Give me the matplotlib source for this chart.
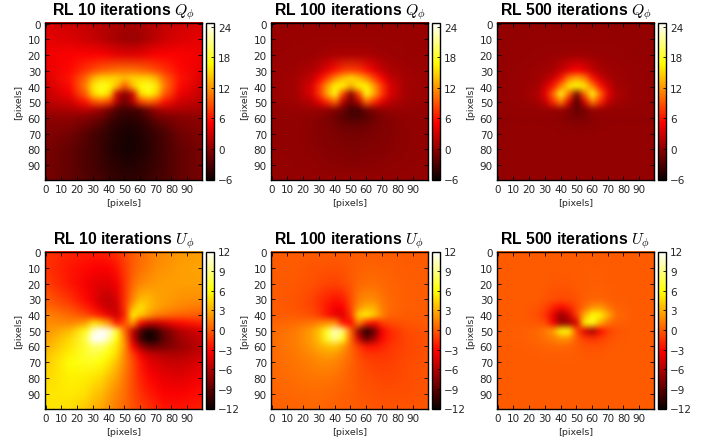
import numpy as np
import matplotlib
matplotlib.use("Agg")
import matplotlib.pyplot as plt
from matplotlib.image import NonUniformImage

W, H = 712, 439
plt.rcParams['mathtext.fontset'] = 'cm'
plt.rcParams['font.family'] = 'DejaVu Sans'

X_NODES = [0, 15, 25, 30, 35, 40, 45, 50, 55, 60, 65, 70, 75, 85, 99]
Y_NODES = [0, 10, 20, 30, 35, 40, 45, 50, 55, 60, 65, 70, 80, 90, 99]
TICKS = list(range(0, 100, 10))

Q10 = [
 [3.5,3,2.5,2.2,2,1.7,1.4,1.2,1.2,1.4,1.7,2,2.5,3,3.5],
 [4,3.5,3,2.5,2,1.5,1,.6,.5,.8,1.5,2,2.8,3.5,4],
 [4.5,5,5,5,5,4.5,4,3.8,3.8,4,4.5,5,5,5,4.5],
 [4,5.5,7.5,8.5,9.5,10,10.5,10.5,10.5,10,9.5,8.5,7.5,5.5,4],
 [3.5,6,10,13.5,15,15,15,14,15,15,15,13.5,10,6,3.5],
 [3,5.5,11,16,18,17,14,9,14,17,18,16,11,5.5,3],
 [2.5,4.5,9.5,15,17,15,3,-.5,3,15,17,15,9.5,4.5,2.5],
 [2,3,6,8.5,9.5,8,1.5,-1.5,1.5,8,9.5,8.5,6,3,2],
 [1,1.5,2,1.5,.5,-1,-3,-3.5,-3.5,-3,-1,.5,1.5,1.5,1],
 [0,0,-.5,-1,-1.5,-3,-4,-4.5,-4.5,-4,-3,-1.5,-1,-.5,0],
 [-.3,-.5,-1.5,-2.3,-3,-4,-4.7,-5,-5,-4.7,-4,-3,-2.3,-.7,-.3],
 [-.5,-1.3,-2.5,-3.2,-3.8,-4.5,-5,-5.4,-5.4,-5,-4.5,-3.8,-3.2,-1.5,-.5],
 [-1,-2,-3,-3.5,-4,-4.8,-5.2,-5.5,-5.5,-5.2,-4.8,-4,-3.3,-2,-1],
 [-1,-2,-3,-3.4,-3.8,-4.3,-4.7,-5,-5,-4.7,-4.3,-3.8,-3.3,-2,-1],
 [-1.2,-2,-2.8,-3.2,-3.5,-4,-4.3,-4.5,-4.5,-4.3,-4,-3.5,-3.2,-2,-1.2],
]
Q100 = [
 [.5,.5,.5,.5,.5,.5,.5,.5,.5,.5,.5,.5,.5,.5,.5],
 [.5,.5,.5,.5,.5,.5,.5,.5,.5,.5,.5,.5,.5,.5,.5],
 [.5,.5,.7,.8,1,1.2,1.3,1.3,1.3,1.2,1,.8,.7,.5,.5],
 [.5,.8,1.5,2.5,4,6,7.5,8,7.5,6,4,2.5,1.5,.8,.5],
 [.5,1,2.5,5,8,11.5,14,15.5,14,11.5,8,5,2.5,1,.5],
 [.5,1,3.5,7.5,12.5,16.5,16.5,13,16.5,16.5,12.5,7.5,3.5,1,.5],
 [.5,1,3.5,7.5,13,17.5,8,-.5,8,17.5,13,7.5,3.5,1,.5],
 [.5,.8,2,4,7,10,2,-1.5,2,10,7,4,2,.8,.5],
 [.3,.4,.5,.5,.2,-.5,-1.5,-3.5,-3.5,-1.5,-.5,.2,.5,.4,.3],
 [.2,.2,0,-.3,-.8,-1.5,-2.5,-3,-3,-2.5,-1.5,-.8,-.3,.2,.2],
 [.2,.1,-.2,-.4,-.7,-1.1,-1.5,-1.8,-1.8,-1.5,-1.1,-.7,-.4,0,.2],
 [.2,.1,-.2,-.4,-.6,-.8,-1,-1.2,-1.2,-1,-.8,-.6,-.4,0,.2],
 [.2,.1,-.1,-.2,-.4,-.5,-.6,-.7,-.7,-.6,-.5,-.4,-.2,0,.2],
 [.3,.2,.1,0,-.1,-.2,-.2,-.3,-.3,-.2,-.2,-.1,0,.1,.3],
 [.3,.3,.3,.3,.3,.3,.3,.3,.3,.3,.3,.3,.3,.3,.3],
]
Q500 = [
 [.3,.3,.3,.3,.3,.3,.3,.3,.3,.3,.3,.3,.3,.3,.3],
 [.3,.3,.3,.3,.3,.3,.3,.3,.3,.3,.3,.3,.3,.3,.3],
 [.3,.3,.4,.4,.5,.5,.6,.6,.6,.5,.5,.4,.4,.3,.3],
 [.3,.4,.6,.8,1.2,2.5,4,5,4,2.5,1.2,.8,.6,.4,.3],
 [.3,.4,.8,1.5,3,6,11,13,11,6,3,1.5,.8,.4,.3],
 [.3,.5,1,3,6,11,16,17,16,11,6,3,1,.5,.3],
 [.3,.5,1.5,4,10,17.5,10,-1,10,17.5,10,4,1.5,.5,.3],
 [.3,.4,1,2.5,7,11,3.5,-3,3.5,11,7,2.5,1,.4,.3],
 [.2,.3,.3,.4,.5,.5,-.5,-2,-1,.5,.5,.4,.3,.3,.2],
 [.2,.2,.2,.1,0,-.2,-.6,-1,-.8,-.2,0,.1,.2,.2,.2],
 [.2,.2,.2,.2,.1,0,-.1,-.2,-.2,-.1,0,.1,.2,.2,.2],
 [.3,.3,.3,.3,.3,.2,.2,.2,.2,.2,.3,.3,.3,.3,.3],
 [.3,.3,.3,.3,.3,.3,.3,.3,.3,.3,.3,.3,.3,.3,.3],
 [.3,.3,.3,.3,.3,.3,.3,.3,.3,.3,.3,.3,.3,.3,.3],
 [.3,.3,.3,.3,.3,.3,.3,.3,.3,.3,.3,.3,.3,.3,.3],
]
U10 = [
 [-1.5,-2,-2.3,-2.3,-2.2,-2,-1.5,-.8,0,.5,1,1.5,1.8,2.2,2.5],
 [-1.5,-2.5,-3,-3.2,-3.3,-3.2,-2.5,-1.2,0,.8,1.3,1.8,2,2.5,2.7],
 [-1,-2.5,-3.5,-4,-4.3,-4.3,-3.5,-1.5,.5,1.5,2,2.3,2.5,2.5,2.5],
 [0,-1.5,-3,-4,-5,-5.5,-4.5,-1.5,1.5,3.5,3.5,2.7,2.5,2,1.8],
 [.5,-.5,-2,-3,-4.5,-5.2,-5,-1.5,3,5,3.5,2.8,2.2,1.5,1],
 [1.5,.5,-.5,-1.5,-2.5,-4,-4.8,-2,5.5,4,2.5,1.2,.8,.2,0],
 [1.8,1.5,2.5,5,4,2,-2.5,-.5,2.5,-3,-5,-5,-4.5,-3,-2],
 [2,3.5,6.5,10.5,12,11,7,.5,-5,-9.5,-11.5,-10.5,-8.5,-6,-4.5],
 [2.5,4.5,7.5,12,12,10,6,1.5,-5,-10,-12,-11,-9,-6.5,-5],
 [3,5,7,8.5,8.5,7,5,2,-3,-6.5,-8.5,-8.5,-8,-7,-5.5],
 [3.7,5.5,7,7.5,7,6,4.5,1.5,-1,-3.5,-5,-5.5,-6,-6,-5],
 [4,6,6.5,6.5,6,5,3.5,1.5,-.5,-2.5,-4,-4.5,-5,-5.2,-4.5],
 [4.5,5.5,5.3,5,4.5,3.5,2.5,1,-.5,-2,-3,-3.5,-4,-4.3,-3.5],
 [5,5.2,4.8,4,3.5,2.5,1.5,.7,-.5,-1.5,-2.2,-2.8,-3.2,-3.3,-2.8],
 [5,4.8,4,3.3,2.8,2,1.2,.5,-.3,-1,-1.5,-2,-2.5,-2.6,-2.2],
]
U100 = [
 [0,0,0,0,0,0,0,0,0,0,0,0,0,0,0],
 [0,0,-.2,-.2,-.3,-.3,-.2,0,.2,.3,.3,.2,.2,0,0],
 [0,-.1,-.3,-.6,-.8,-.9,-.6,-.1,.4,.6,.7,.5,.3,.1,0],
 [0,-.2,-.8,-1.5,-2,-2.6,-2.2,-.5,1.2,1.8,1.6,1,.5,.1,0],
 [0,-.2,-.8,-1.5,-2.5,-3.5,-3.2,-.8,2,3,3,1.2,.5,.1,0],
 [0,0,-.4,-1.2,-2.5,-4,-4.3,-1.5,4.5,5.5,4,1.5,.3,0,0],
 [.3,.6,1,1.5,2,2,-2.5,-3,1.5,-2,-3,-1.2,-.6,-.2,0],
 [.5,1.2,2.5,4,7,10.5,8.5,.5,-7,-11,-8.5,-3.5,-1.8,-.6,-.2],
 [.6,1.3,2.5,3.8,7,9.5,6.5,.5,-5,-9,-6.5,-3,-1.8,-.8,-.3],
 [.6,1.3,2.2,3,3.5,3.8,2.5,.5,-1.2,-2.5,-2.5,-2,-1.4,-.8,-.3],
 [.5,1.1,1.7,2.2,2.5,2.3,1.5,.5,-.6,-1.3,-1.5,-1.4,-1.2,-.7,-.3],
 [.5,1,1.4,1.7,1.7,1.5,1,.3,-.3,-.8,-1,-1.1,-1,-.6,-.2],
 [.4,.7,1,1,1,.8,.5,.1,-.2,-.4,-.6,-.7,-.7,-.5,-.2],
 [.3,.5,.6,.6,.5,.4,.2,.1,-.1,-.2,-.3,-.4,-.4,-.4,-.2],
 [.2,.3,.4,.3,.3,.2,.1,0,0,-.1,-.2,-.2,-.2,-.2,-.1],
]
U500 = [
 [0,0,0,0,0,0,0,0,0,0,0,0,0,0,0],
 [0,0,0,0,0,0,0,0,0,0,0,0,0,0,0],
 [0,0,0,0,-.1,-.1,-.1,0,0,.1,.1,0,0,0,0],
 [0,0,0,-.2,-.4,-.6,-.5,-.3,.1,.3,.3,.2,0,0,0],
 [0,0,-.2,-.8,-2,-3,-2,-.6,.6,2,2.2,1,.3,0,0],
 [0,0,-.4,-1.5,-4,-7,-5,-1,3,6,5.5,3,.6,0,0],
 [0,0,-.1,-.5,-3.5,-7,-6.5,-4.5,5.5,6.5,3,.8,.2,0,0],
 [0,.1,.5,1.2,2.5,6,6,-.5,-4.5,-6.5,-3,-1,-.3,0,0],
 [0,.1,.4,.8,1.3,2,1.8,0,-1,-1.5,-1,-.4,-.1,0,0],
 [0,0,.2,.3,.4,.4,.3,0,-.2,-.3,-.3,-.1,0,0,0],
 [0,0,0,.1,.1,.1,.1,0,-.1,-.1,-.1,0,0,0,0],
 [0,0,0,0,0,0,0,0,0,0,0,0,0,0,0],
 [0,0,0,0,0,0,0,0,0,0,0,0,0,0,0],
 [0,0,0,0,0,0,0,0,0,0,0,0,0,0,0],
 [0,0,0,0,0,0,0,0,0,0,0,0,0,0,0],
]

Q_CBAR_TICKS = [-6, 0, 6, 12, 18, 24]
U_CBAR_TICKS = [-12, -9, -6, -3, 0, 3, 6, 9, 12]
ITERATIONS = [10, 100, 500]
TEXT = '#262626'

fig = plt.figure(figsize=(W / 100, H / 100), dpi=100)

def box(l, t, r, b):
    return [l / W, 1 - b / H, (r - l) / W, (b - t) / H]

def soften(img, dpi, sigma=2.0):
    # smooth the rendered image so the bilinear creases between nodes vanish
    r = int(3 * sigma)
    k = np.exp(-0.5 * (np.arange(-r, r + 1) / sigma) ** 2)
    k /= k.sum()
    pad = np.pad(img, ((r, r), (r, r), (0, 0)), mode='edge')
    pad = np.apply_along_axis(lambda m: np.convolve(m, k, mode='same'), 0, pad)
    pad = np.apply_along_axis(lambda m: np.convolve(m, k, mode='same'), 1, pad)
    return pad[r:-r, r:-r], 0, 0

def panel(data, left, top, cleft, vmin, vmax, cticks, title):
    ax = fig.add_axes(box(left, top, left + 157, top + 157))
    im = NonUniformImage(ax, interpolation='bilinear', cmap='hot',
                         norm=plt.Normalize(vmin, vmax))
    im.set_data(np.array(X_NODES, float), np.array(Y_NODES, float), np.array(data, float))
    im.set_agg_filter(soften)
    ax.add_image(im)
    ax.set_xlim(-0.5, 99.5)
    ax.set_ylim(99.5, -0.5)
    ax.set_xticks(TICKS)
    ax.set_yticks(TICKS)
    ax.tick_params(direction='in', top=True, right=True, labelsize=7.5, length=3,
                   width=0.6, pad=3, labelcolor=TEXT)
    ax.set_xlabel('[pixels]', fontsize=6.8, labelpad=3, color=TEXT)
    ax.set_ylabel('[pixels]', fontsize=6.8, labelpad=3, color=TEXT)
    ax.set_title(title, fontsize=11.3, fontweight='bold', family='Liberation Sans', pad=6)
    for s in ax.spines.values():
        s.set_linewidth(1.0)
    cax = fig.add_axes(box(cleft, top, cleft + 8, top + 157))
    cb = fig.colorbar(im, cax=cax, ticks=cticks)
    cb.ax.tick_params(direction='in', labelsize=7.5, length=2.5, width=0.6, pad=3, labelcolor=TEXT)
    cb.outline.set_linewidth(1.0)

LEFTS = [45, 271, 497]
CLEFTS = [206, 432, 658]
for i, n in enumerate(ITERATIONS):
    panel([Q10, Q100, Q500][i], LEFTS[i], 24, CLEFTS[i], -6.2, 24.8, Q_CBAR_TICKS,
          f'RL {n} iterations $Q_\\phi$')
    panel([U10, U100, U500][i], LEFTS[i], 252.5, CLEFTS[i], -12, 12, U_CBAR_TICKS,
          f'RL {n} iterations $U_\\phi$')

fig.savefig('out.png', dpi=100)
